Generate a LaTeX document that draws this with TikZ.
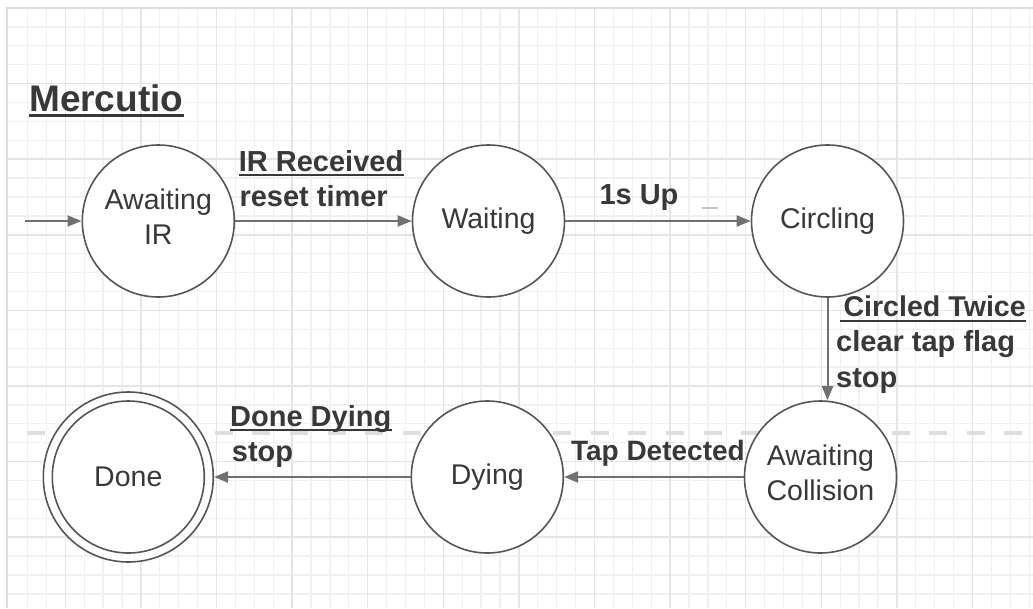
\documentclass[tikz,border=0pt]{standalone}
\usepackage{fontspec}
\setmainfont{Liberation Sans}
\usetikzlibrary{arrows.meta}

\definecolor{gridminor}{HTML}{F1F1F1}
\definecolor{gridmajor}{HTML}{E5E5E5}
\definecolor{gridedge}{HTML}{DDDDDD}
\definecolor{stateline}{HTML}{555555}
\definecolor{arrowgray}{HTML}{707070}
\definecolor{inkgray}{HTML}{383838}
\definecolor{breakgray}{HTML}{DEDEDE}
\definecolor{straygray}{HTML}{C4C4C4}

\begin{document}
\begin{tikzpicture}[x=1pt,y=-1pt,
  gridmin/.style={draw=gridminor,line width=1.3pt},
  gridmaj/.style={draw=gridmajor,line width=1.5pt},
  state/.style={circle,draw=stateline,line width=1.6pt,fill=white,
    minimum size=152pt,inner sep=0pt,text=inkgray,align=center,
    font=\fontsize{28.5}{35}\selectfont},
  twoline/.style={text depth=8pt},
  ring/.style={circle,draw=stateline,line width=1.6pt,fill=white,
    minimum size=170pt,inner sep=0pt},
  trans/.style={draw=arrowgray,line width=2pt,
    -{Triangle[length=14pt,width=11pt]}},
  lbl/.style={inner sep=0pt,anchor=base west,text=inkgray,
    font=\fontsize{29}{35}\bfseries\selectfont},
  ul/.style={draw=inkgray,line width=2.2pt},
]
\useasboundingbox (0,0) rectangle (1033,608);

% background grid
\foreach \k in {1,...,54} {
  \pgfmathsetmacro\gx{8.6+18.9*\k}
  \draw[gridmin] (\gx,8) -- (\gx,608);
}
\foreach \k in {1,...,31} {
  \pgfmathsetmacro\gy{8+18.9*\k}
  \draw[gridmin] (7,\gy) -- (1033,\gy);
}
\foreach \k in {3,7,...,51} {
  \pgfmathsetmacro\gx{8.6+18.9*\k}
  \draw[gridmaj] (\gx,8) -- (\gx,608);
}
\foreach \k in {4,8,...,28} {
  \pgfmathsetmacro\gy{8+18.9*\k}
  \draw[gridmaj] (7,\gy) -- (1033,\gy);
}
\draw[draw=gridedge,line width=1.6pt] (7,608) -- (7,8) -- (1033,8);

% page break
\draw[draw=breakgray,line width=4pt,dash pattern=on 18pt off 19.6pt,
  dash phase=18.9pt] (8,432.7) -- (1033,432.7);

% stray mark
\draw[draw=straygray,line width=2pt] (701.7,208.3) -- (718.3,208.3);

% title
\node[lbl,font=\fontsize{37}{44}\bfseries\selectfont] (title) at (29,111.7) {Mercutio};
\draw[ul,line width=3pt] ([yshift=-3.8pt]title.base west) -- ([yshift=-3.8pt]title.base east);

% states
\node[state,twoline] (air) at (158.3,221) {Awaiting\\IR};
\node[state] (wait) at (488.5,221) {Waiting};
\node[state] (circ) at (827.5,221) {Circling};
\node[state,twoline] (coll) at (820.5,477) {Awaiting\\Collision};
\node[state] (dying) at (487.3,477) {Dying};
\node[ring] (doneouter) at (128.3,477) {};
\node[state] (done) at (128.3,477) {Done};

% transitions
\coordinate (start) at (25,221);
\draw[trans] (start) -- (air);
\draw[trans] (air) -- (wait);
\draw[trans] (wait) -- (circ);
\draw[trans] (circ.south) -- (circ.south |- coll.north);
\draw[trans] (coll) -- (dying);
\draw[trans] (dying) -- (doneouter);

% transition labels
\node[lbl] (irrec) at (238.7,171) {IR Received};
\draw[ul] ([yshift=-4pt]irrec.base west) -- ([yshift=-4pt]irrec.base east);
\node[lbl] (reset) at (239.3,206.7) {reset timer};

\node[lbl] (oneup) at (599.3,204.3) {1s Up};

\node[lbl,font=\fontsize{28.6}{35}\bfseries\selectfont] (twice) at (843.3,316.7) {Circled Twice};
\coordinate (twiceul) at (840,321.3);
\draw[ul] (twiceul) -- (twiceul -| twice.east);
\node[lbl] (clear) at (836,351.7) {clear tap flag};
\node[lbl] (stopa) at (836,387.3) {stop};

\node[lbl,anchor=base east,font=\fontsize{28}{35}\bfseries\selectfont] (tap) at (745,460) {Tap Detected};

\node[lbl] (donedying) at (230,426.7) {Done Dying};
\draw[ul] ([yshift=-3.6pt]donedying.base west) -- ([yshift=-3.6pt]donedying.base east);
\node[lbl] (stopb) at (231.7,461) {stop};
\end{tikzpicture}
\end{document}
